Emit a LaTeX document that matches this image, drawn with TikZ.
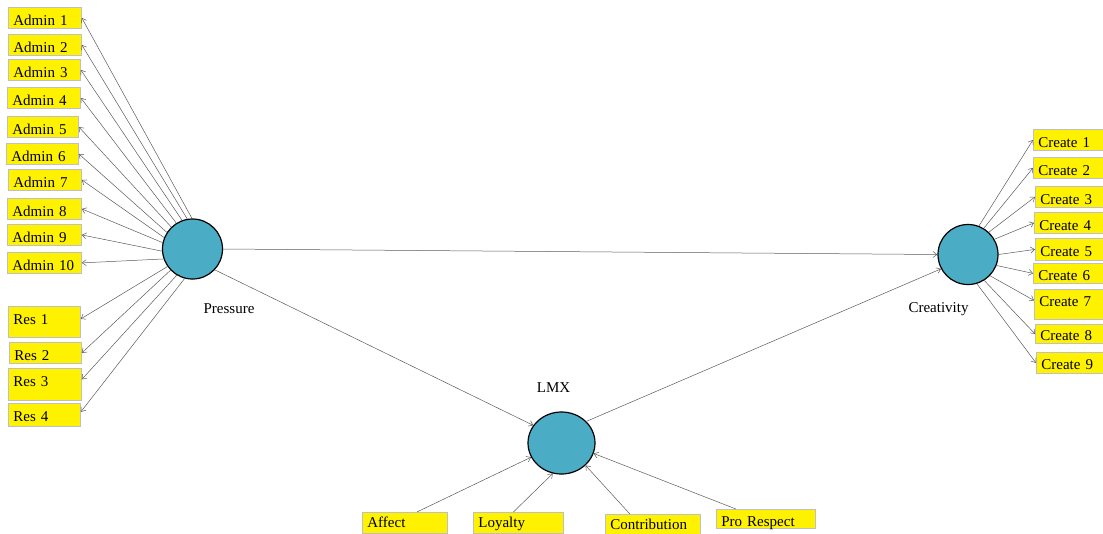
\documentclass[tikz,border=0pt]{standalone}
\usepackage{fontspec}
\setmainfont{Liberation Serif}
\usepackage{tikz}
\usetikzlibrary{arrows.meta,shapes.geometric}
\definecolor{lvblue}{RGB}{75,172,198}
\definecolor{boxline}{RGB}{192,192,192}
\definecolor{pathgray}{RGB}{90,90,90}

\begin{document}
\begin{tikzpicture}[x=1pt,y=-1pt,
  ind/.style={draw=boxline,line width=0.8pt,fill=yellow,anchor=north west,
    inner xsep=5pt,inner ysep=0pt,text width=63pt,align=left,
    text height=18pt,text depth=3pt,font=\fontsize{15pt}{18pt}\selectfont},
  lv/.style={circle,draw,fill=lvblue,line width=1.2pt,minimum size=60pt,inner sep=0pt},
  lab/.style={font=\fontsize{15pt}{18pt}\selectfont},
  ln/.style={draw=pathgray,line width=0.5pt,-{Straight Barb[length=4pt,width=6pt]}}]
\useasboundingbox (0,0) rectangle (1103,533);
\node[ind] (a1) at (8,7) {Admin 1};
\node[ind] (a2) at (8,34) {Admin 2};
\node[ind,text width=62pt] (a3) at (8,59) {Admin 3};
\node[ind] (a4) at (7,87) {Admin 4};
\node[ind,text width=61pt] (a5) at (7,116) {Admin 5};
\node[ind,text width=62pt] (a6) at (6,143) {Admin 6};
\node[ind] (a7) at (8,169) {Admin 7};
\node[ind,text width=64pt] (a8) at (7,198) {Admin 8};
\node[ind,text width=64pt] (a9) at (7,224) {Admin 9};
\node[ind,text width=64pt] (a10) at (7,252) {Admin 10};
\node[ind,text width=62pt,text depth=13pt] (r1) at (8,306) {Res 1};
\node[ind,text width=62pt] (r2) at (9,342) {Res 2};
\node[ind,text depth=14pt] (r3) at (8,368) {Res 3};
\node[ind,text width=62pt,text depth=5pt] (r4) at (8,403) {Res 4};
\node[ind] (c1) at (1033,129) {Create 1};
\node[ind] (c2) at (1033,157) {Create 2};
\node[ind] (c3) at (1035,186) {Create 3};
\node[ind] (c4) at (1034,212) {Create 4};
\node[ind,text depth=4pt] (c5) at (1035,238) {Create 5};
\node[ind,text height=17pt] (c6) at (1033,263) {Create 6};
\node[ind,text height=17pt,text depth=13pt] (c7) at (1034,289) {Create 7};
\node[ind,text height=16pt] (c8) at (1035,324) {Create 8};
\node[ind,text height=17pt,text depth=4pt] (c9) at (1036,352) {Create 9};
\node[ind,text width=75pt,text height=15pt,text depth=6pt] (af) at (362,512) {Affect};
\node[ind,text width=80pt,text height=15pt,text depth=6pt] (lo) at (473,512) {Loyalty};
\node[ind,text width=85pt,text height=15pt,text depth=6pt] (co) at (605,514) {Contribution};
\node[ind,text width=89pt,text height=17pt,text depth=2pt] (pr) at (716,509) {Pro Respect};
\node[lv] (P) at (192.5,249) {};
\node[lv] (C) at (968,254.5) {};
\node[lv,ellipse,minimum width=67pt,minimum height=62pt] (L) at (561.5,443) {};
\node[lab] (Plab) at (229,309) {Pressure};
\node[lab] (Clab) at (938.5,309) {Creativity};
\node[lab] (Llab) at (553.5,388) {LMX};
\draw[ln] (P.91) -- (a1.east);
\draw[ln] (P.100) -- (a2.east);
\draw[ln] (P.110) -- (a3.east);
\draw[ln] (P.122) -- (a4.east);
\draw[ln] (P.134) -- (a5.east);
\draw[ln] (P.147) -- (a6.east);
\draw[ln] (P.158) -- (a7.east);
\draw[ln] (P.168) -- (a8.east);
\draw[ln] (P.184) -- (a9.east);
\draw[ln] (P.199) -- (a10.east);
\draw[ln] (P.215) -- ([yshift=3pt]r1.east);
\draw[ln] (P.224) -- (r2.east);
\draw[ln] (P.239) -- ([yshift=5pt]r3.east);
\draw[ln] (P.255) -- ([yshift=3pt]r4.east);
\draw[ln] (C.69) -- (c1.west);
\draw[ln] (C.59) -- (c2.west);
\draw[ln] (C.47) -- (c3.west);
\draw[ln] (C.30) -- (c4.west);
\draw[ln] (C.0) -- (c5.west);
\draw[ln] (C.-21) -- (c6.west);
\draw[ln] (C.-44) -- ([yshift=4pt]c7.west);
\draw[ln] (C.-58) -- (c8.west);
\draw[ln] (C.-73) -- (c9.west);
\draw[ln] (P.east) -- (C.west);
\draw[ln] (P.-43) -- (L.148);
\draw[ln] (L.41) -- (C.208);
\draw[ln] ([xshift=12pt]af.north) -- (L.205);
\draw[ln] ([xshift=-5pt]lo.north) -- (L.254);
\draw[ln] ([xshift=-23pt]co.north) -- (L.-43);
\draw[ln] ([xshift=-30pt]pr.north) -- (L.-18);
\end{tikzpicture}
\end{document}
